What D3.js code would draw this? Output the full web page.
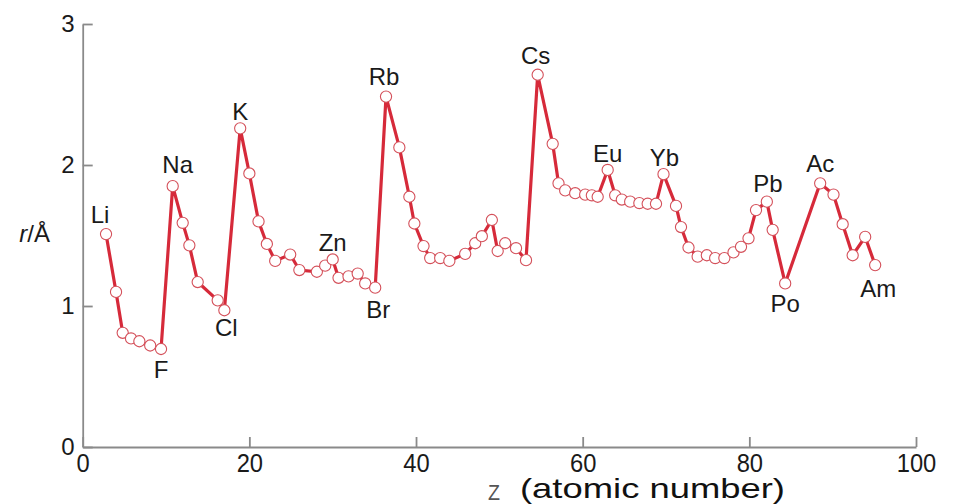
<!DOCTYPE html>
<html>
<head>
<meta charset="utf-8">
<script src="https://cdn.jsdelivr.net/npm/d3@7"></script>
<style>
  body { margin: 0; background: #fff; }
  svg { display: block; }
  .axis path, .axis line { stroke: #8a8a8a; stroke-width: 1.8; }
  .ylab text { font-family: "Liberation Sans", Arial, sans-serif; font-size: 24px; fill: #1a1a1a; }
  .xlab text { font-family: "Liberation Sans", Arial, sans-serif; font-size: 25px; fill: #1a1a1a; }
  .elem { font-family: "Liberation Sans", Arial, sans-serif; font-size: 24px; fill: #1a1a1a; text-anchor: middle; }
</style>
</head>
<body>
<svg id="chart" width="953" height="504"></svg>
<script>
// atomic number (as placed in the figure) and radius in Å
let zPos = [2.8,4.0,4.8,5.8,6.8,8.1,9.4,10.8,12.0,12.8,13.8,16.2,17.0,
  18.9,20.0,21.1,22.1,23.1,24.9,26.0,28.1,29.1,30.0,30.7,31.9,33.0,33.9,35.1,
  36.4,38.0,39.2,39.8,40.9,41.7,42.9,44.0,45.9,47.1,47.9,49.1,49.8,50.7,52.0,53.2,
  54.6,56.4,57.1,57.9,59.1,60.3,61.1,61.8,63.0,63.9,64.7,65.7,66.8,67.8,68.8,69.7,
  71.2,71.8,72.7,73.8,74.9,75.9,77.0,78.1,79.0,79.9,80.8,82.1,82.8,84.3,
  88.5,90.1,91.2,92.4,93.9,95.1];
let radius = [1.51,1.10,0.81,0.77,0.75,0.72,0.695,1.85,1.59,1.43,1.17,1.04,0.97,
  2.26,1.94,1.60,1.44,1.32,1.365,1.255,1.243,1.286,1.33,1.20,1.21,1.23,1.16,1.13,
  2.485,2.125,1.775,1.585,1.425,1.34,1.34,1.32,1.37,1.445,1.495,1.61,1.39,1.445,1.41,1.325,
  2.64,2.15,1.87,1.82,1.80,1.79,1.785,1.775,1.965,1.785,1.755,1.74,1.73,1.725,1.725,1.935,
  1.71,1.56,1.415,1.35,1.36,1.34,1.34,1.38,1.42,1.48,1.68,1.74,1.54,1.16,
  1.87,1.79,1.58,1.36,1.49,1.29];

// labelled elements: name and index of its point
let labelNames = ["Li","Na","F","K","Cl","Zn","Rb","Br","Cs","Eu","Yb","Pb","Po","Ac","Am"];
let labelIndex = [0,7,6,13,12,22,28,27,44,52,59,71,73,74,79];

let xTicks = [0,20,40,60,80,100];
let yTicks = [0,1,2,3];

// label placement relative to its point (layout only)
let labelShift = [[-6,-11],[5,-13],[0,29],[0,-8],[2,26],[0,-8],[-2,-12],[3,30],
  [-2,-11],[0,-8],[1,-8],[1,-10],[0,29],[0,-11],[3,32]];

let svg = d3.select('#chart');

let x = d3.scaleLinear().domain([0,100]).range([82.7,916]);
let y = d3.scaleLinear().domain([0,3]).range([447,24]);

let data = zPos.map((z,i) => ({z: z, r: radius[i]}));

svg.append('g')
  .attr('class','axis xlab')
  .attr('transform','translate(0,447)')
  .call(d3.axisBottom(x).tickValues(xTicks).tickSizeInner(-10).tickSizeOuter(0).tickPadding(7))
  .call(g => g.selectAll('text')
    .attr('dy','0.72em')
    // narrow digits as in the figure
    .attr('textLength', d => String(d).length * 13.2)
    .attr('lengthAdjust','spacingAndGlyphs'));

svg.append('g')
  .attr('class','axis ylab')
  .attr('transform','translate(82.7,0)')
  .call(d3.axisLeft(y).tickValues(yTicks).tickFormat(d3.format('d')).tickSizeInner(-10).tickSizeOuter(0).tickPadding(8));

let line = d3.line().x(d => x(d.z)).y(d => y(d.r));

svg.append('path')
  .datum(data)
  .attr('d', line)
  .attr('fill','none')
  .attr('stroke','#d62a3a')
  .attr('stroke-width',3.2)
  .attr('stroke-linejoin','round');

svg.selectAll('.dot')
  .data(data)
  .enter()
  .append('circle')
    .attr('class','dot')
    .attr('cx', d => x(d.z))
    .attr('cy', d => y(d.r))
    .attr('r',5.6)
    .attr('fill','#fff')
    .attr('stroke','#d4505a')
    .attr('stroke-width',1.1);

svg.selectAll('.elem')
  .data(labelNames)
  .enter()
  .append('text')
    .attr('class','elem')
    .attr('x', (d,i) => x(data[labelIndex[i]].z) + labelShift[i][0])
    .attr('y', (d,i) => y(data[labelIndex[i]].r) + labelShift[i][1])
    .text(d => d);

// axis titles
let yt = svg.append('text')
  .attr('x',50).attr('y',242)
  .attr('text-anchor','end')
  .style('font-family','"Liberation Sans", Arial, sans-serif')
  .style('font-size','24px')
  .attr('fill','#1a1a1a');
yt.append('tspan').style('font-style','italic').text('r');
yt.append('tspan').text('/Å');

svg.append('text')
  .attr('x',488).attr('y',500)
  .attr('textLength',12)
  .attr('lengthAdjust','spacingAndGlyphs')
  .style('font-family','"Liberation Sans", Arial, sans-serif')
  .style('font-size','22px')
  .attr('fill','#555')
  .text('Z');

svg.append('text')
  .attr('x',520).attr('y',498)
  .attr('textLength',265)
  .attr('lengthAdjust','spacingAndGlyphs')
  .style('font-family','"Liberation Sans", Arial, sans-serif')
  .style('font-size','28px')
  .attr('fill','#111')
  .text('(atomic number)');
</script>
</body>
</html>
